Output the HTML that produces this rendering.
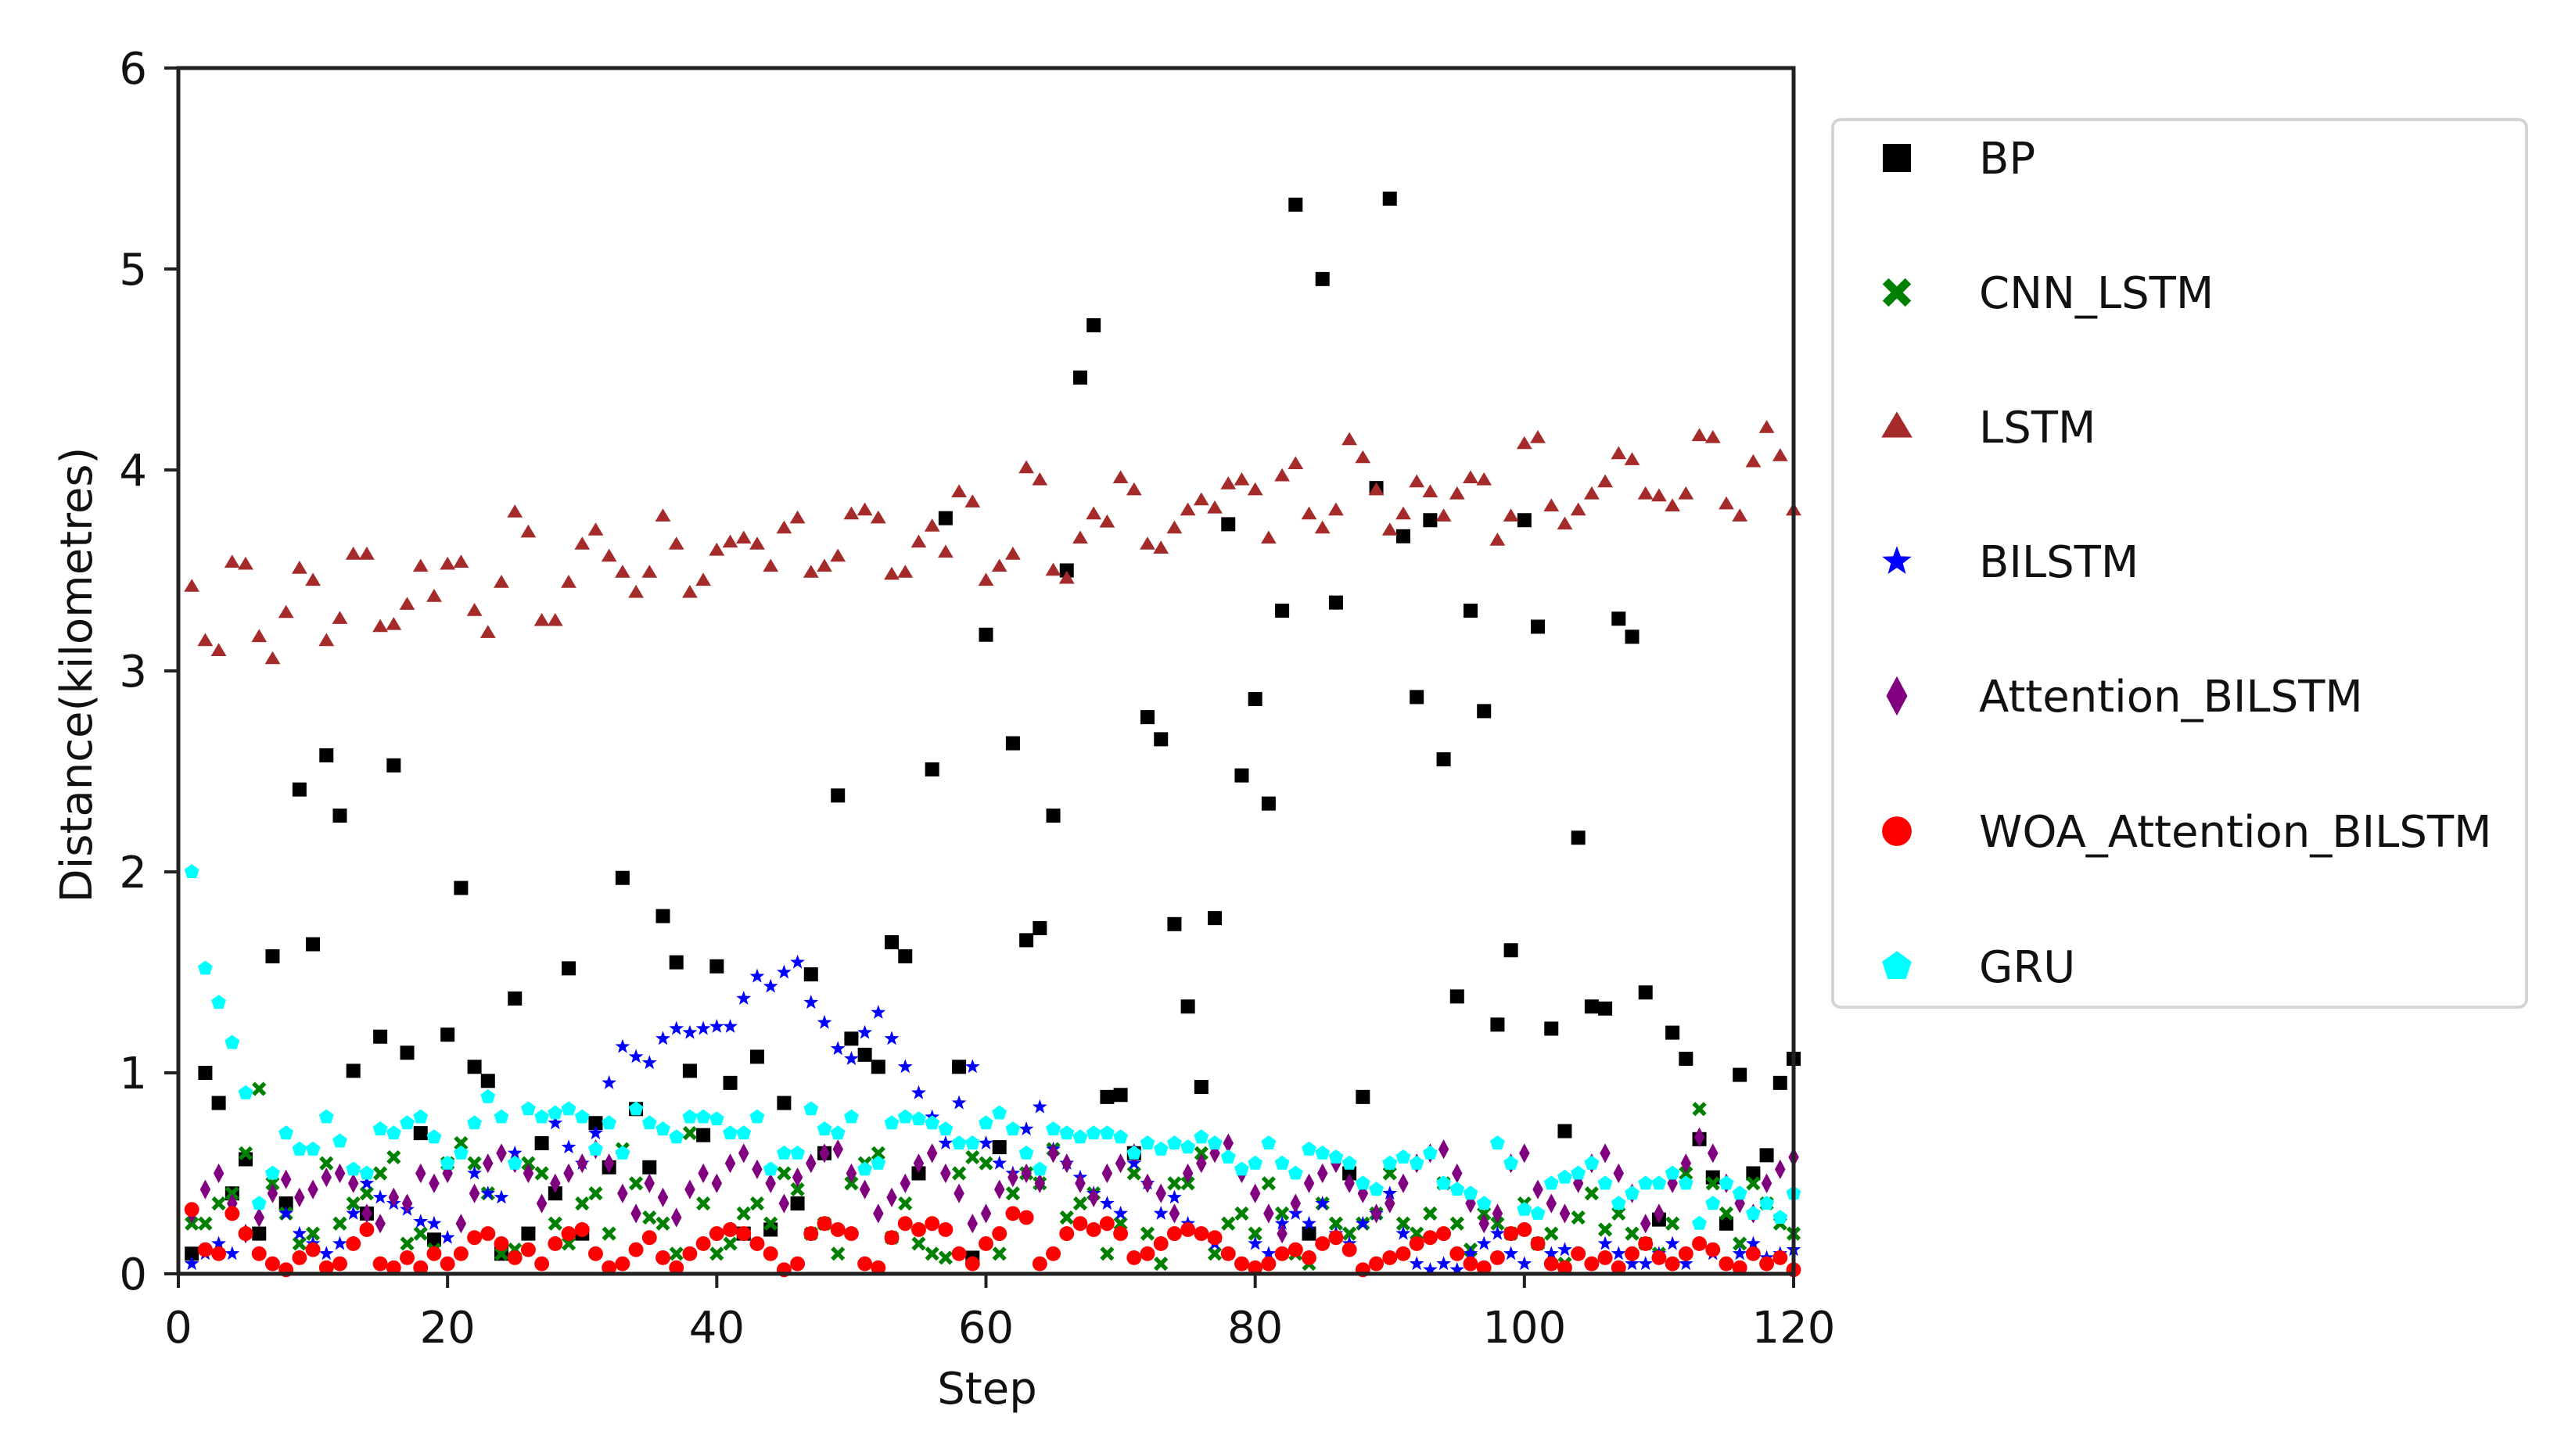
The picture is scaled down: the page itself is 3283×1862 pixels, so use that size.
<!DOCTYPE html>
<html><head><meta charset="utf-8"><style>
html,body{margin:0;padding:0;background:#fff;}
svg{display:block;font-family:"DejaVu Sans","Liberation Sans",sans-serif;}
</style></head><body>
<svg id="chart" width="3283" height="1862" viewBox="0 0 3283 1862" xmlns="http://www.w3.org/2000/svg">
<rect width="3283" height="1862" fill="#fff"/>
<g id="marks"></g>
<rect x="228" y="87" width="2065" height="1542" fill="none" stroke="#222" stroke-width="5"/>
<g id="axes"></g>
<text x="1262" y="1795" font-size="56" text-anchor="middle" fill="#111">Step</text>
<text transform="translate(117,863) rotate(-90)" font-size="56" text-anchor="middle" fill="#111">Distance(kilometres)</text>
<g id="legend">
<rect x="2343" y="153" width="887" height="1135" rx="10" fill="#fff" stroke="#d4d4d4" stroke-width="4"/>
</g>
</svg>
<script>
const steps = Array.from({length:120},(_,i)=>i+1);
const seriesNames = ["BP","CNN_LSTM","LSTM","BILSTM","Attention_BILSTM","WOA_Attention_BILSTM","GRU"];
const bpValues = [0.1,1.0,0.85,0.4,0.57,0.2,1.58,0.35,2.41,1.64,2.58,2.28,1.01,0.3,1.18,2.53,1.1,0.7,0.17,1.19,1.92,1.03,0.96,0.1,1.37,0.2,0.65,0.4,1.52,0.2,0.75,0.53,1.97,0.82,0.53,1.78,1.55,1.01,0.69,1.53,0.95,0.2,1.08,0.22,0.85,0.35,1.49,0.6,2.38,1.17,1.09,1.03,1.65,1.58,0.5,2.51,3.76,1.03,0.08,3.18,0.63,2.64,1.66,1.72,2.28,3.5,4.46,4.72,0.88,0.89,0.6,2.77,2.66,1.74,1.33,0.93,1.77,3.73,2.48,2.86,2.34,3.3,5.32,0.2,4.95,3.34,0.5,0.88,3.91,5.35,3.67,2.87,3.75,2.56,1.38,3.3,2.8,1.24,1.61,3.75,3.22,1.22,0.71,2.17,1.33,1.32,3.26,3.17,1.4,0.27,1.2,1.07,0.67,0.48,0.25,0.99,0.5,0.59,0.95,1.07];
const cnnLstmValues = [0.25,0.25,0.35,0.4,0.6,0.92,0.45,0.3,0.15,0.2,0.55,0.25,0.35,0.4,0.5,0.58,0.15,0.2,0.12,0.55,0.65,0.55,0.4,0.1,0.12,0.55,0.5,0.25,0.15,0.35,0.4,0.2,0.62,0.45,0.28,0.25,0.1,0.7,0.35,0.1,0.15,0.3,0.35,0.25,0.5,0.42,0.2,0.25,0.1,0.45,0.55,0.6,0.18,0.35,0.15,0.1,0.08,0.5,0.58,0.55,0.1,0.4,0.5,0.45,0.62,0.28,0.35,0.4,0.1,0.25,0.5,0.2,0.05,0.45,0.45,0.6,0.1,0.25,0.3,0.2,0.45,0.3,0.1,0.05,0.35,0.25,0.2,0.25,0.3,0.5,0.25,0.2,0.3,0.45,0.25,0.12,0.3,0.25,0.2,0.35,0.15,0.2,0.05,0.28,0.4,0.22,0.3,0.2,0.15,0.1,0.25,0.5,0.82,0.45,0.3,0.15,0.45,0.35,0.25,0.2];
const lstmValues = [3.42,3.15,3.1,3.54,3.53,3.17,3.06,3.29,3.51,3.45,3.15,3.26,3.58,3.58,3.22,3.23,3.33,3.52,3.37,3.53,3.54,3.3,3.19,3.44,3.79,3.69,3.25,3.25,3.44,3.63,3.7,3.57,3.49,3.39,3.49,3.77,3.63,3.39,3.45,3.6,3.64,3.66,3.63,3.52,3.71,3.76,3.49,3.52,3.57,3.78,3.8,3.76,3.48,3.49,3.64,3.72,3.59,3.89,3.84,3.45,3.52,3.58,4.01,3.95,3.5,3.46,3.66,3.78,3.74,3.96,3.9,3.63,3.61,3.71,3.8,3.85,3.81,3.93,3.95,3.9,3.66,3.97,4.03,3.78,3.71,3.8,4.15,4.06,3.9,3.7,3.78,3.94,3.89,3.77,3.88,3.96,3.95,3.65,3.77,4.13,4.16,3.82,3.73,3.8,3.88,3.94,4.08,4.05,3.88,3.87,3.82,3.88,4.17,4.16,3.83,3.77,4.04,4.21,4.07,3.8];
const bilstmValues = [0.05,0.1,0.15,0.1,0.2,0.1,0.05,0.3,0.2,0.15,0.1,0.15,0.3,0.45,0.38,0.35,0.32,0.26,0.25,0.18,0.6,0.5,0.4,0.38,0.6,0.82,0.78,0.75,0.63,0.55,0.7,0.95,1.13,1.08,1.05,1.17,1.22,1.2,1.22,1.23,1.23,1.37,1.48,1.43,1.5,1.55,1.35,1.25,1.12,1.07,1.2,1.3,1.17,1.03,0.9,0.78,0.65,0.85,1.03,0.65,0.55,0.5,0.72,0.83,0.62,0.55,0.48,0.4,0.35,0.3,0.55,0.45,0.3,0.38,0.25,0.2,0.15,0.1,0.05,0.15,0.1,0.25,0.3,0.25,0.35,0.2,0.15,0.25,0.3,0.4,0.2,0.05,0.02,0.05,0.02,0.1,0.15,0.2,0.1,0.05,0.15,0.1,0.12,0.1,0.05,0.15,0.1,0.05,0.05,0.1,0.15,0.05,0.15,0.1,0.05,0.1,0.15,0.08,0.1,0.12];
const attnValues = [0.3,0.42,0.5,0.35,0.2,0.28,0.4,0.47,0.38,0.42,0.48,0.5,0.45,0.3,0.25,0.38,0.35,0.5,0.45,0.5,0.25,0.4,0.55,0.6,0.55,0.5,0.35,0.45,0.5,0.55,0.62,0.55,0.4,0.3,0.45,0.38,0.28,0.42,0.5,0.45,0.55,0.6,0.52,0.45,0.35,0.48,0.55,0.6,0.62,0.5,0.42,0.3,0.38,0.45,0.55,0.6,0.5,0.4,0.25,0.3,0.42,0.48,0.5,0.45,0.6,0.55,0.45,0.38,0.5,0.55,0.6,0.45,0.4,0.3,0.5,0.55,0.6,0.65,0.5,0.4,0.3,0.2,0.35,0.45,0.5,0.55,0.45,0.4,0.3,0.35,0.45,0.55,0.6,0.62,0.5,0.35,0.25,0.3,0.55,0.6,0.42,0.35,0.3,0.45,0.55,0.6,0.5,0.4,0.25,0.3,0.45,0.55,0.68,0.6,0.45,0.35,0.3,0.45,0.52,0.58];
const woaValues = [0.32,0.12,0.1,0.3,0.2,0.1,0.05,0.02,0.08,0.12,0.03,0.05,0.15,0.22,0.05,0.03,0.08,0.03,0.1,0.05,0.1,0.18,0.2,0.15,0.08,0.12,0.05,0.15,0.2,0.22,0.1,0.03,0.05,0.12,0.18,0.08,0.03,0.1,0.15,0.2,0.22,0.2,0.15,0.1,0.02,0.05,0.2,0.25,0.22,0.2,0.05,0.03,0.18,0.25,0.22,0.25,0.22,0.1,0.05,0.15,0.2,0.3,0.28,0.05,0.1,0.2,0.25,0.22,0.25,0.2,0.08,0.1,0.15,0.2,0.22,0.2,0.18,0.1,0.05,0.03,0.05,0.1,0.12,0.08,0.15,0.18,0.12,0.02,0.05,0.08,0.1,0.15,0.18,0.2,0.1,0.05,0.03,0.08,0.2,0.22,0.15,0.05,0.03,0.1,0.05,0.08,0.03,0.1,0.15,0.08,0.05,0.1,0.15,0.12,0.05,0.03,0.1,0.05,0.08,0.02];
const gruValues = [2.0,1.52,1.35,1.15,0.9,0.35,0.5,0.7,0.62,0.62,0.78,0.66,0.52,0.5,0.72,0.7,0.75,0.78,0.68,0.55,0.6,0.75,0.88,0.78,0.55,0.82,0.78,0.8,0.82,0.78,0.62,0.75,0.6,0.82,0.75,0.72,0.68,0.78,0.78,0.77,0.7,0.7,0.78,0.52,0.6,0.6,0.82,0.72,0.7,0.78,0.52,0.55,0.75,0.78,0.77,0.75,0.72,0.65,0.65,0.75,0.8,0.72,0.6,0.52,0.72,0.7,0.68,0.7,0.7,0.68,0.6,0.65,0.62,0.65,0.63,0.68,0.65,0.58,0.52,0.55,0.65,0.55,0.5,0.62,0.6,0.58,0.55,0.45,0.42,0.55,0.58,0.55,0.6,0.45,0.42,0.4,0.35,0.65,0.55,0.32,0.3,0.45,0.48,0.5,0.55,0.45,0.35,0.4,0.45,0.45,0.5,0.45,0.25,0.35,0.45,0.4,0.3,0.35,0.28,0.4];
const xTicks = [0,20,40,60,80,100,120];
const yTicks = [0,1,2,3,4,5,6];

const NS="http://www.w3.org/2000/svg";
const X0=228,X1=2293,Y0=1629,Y1=87;
function xScale(v){return X0+(v-0)/(120-0)*(X1-X0);}
function yScale(v){return Y0-(v-0)/(6-0)*(Y0-Y1);}

function markerShape(type,cx,cy,s,color){
  let el;
  const r=s/2;
  if(type==="square"){el=document.createElementNS(NS,"rect");el.setAttribute("x",cx-r);el.setAttribute("y",cy-r);el.setAttribute("width",s);el.setAttribute("height",s);el.setAttribute("fill",color);}
  else if(type==="circle"){el=document.createElementNS(NS,"ellipse");el.setAttribute("cx",cx);el.setAttribute("cy",cy);el.setAttribute("rx",r*1.05);el.setAttribute("ry",r*1.05);el.setAttribute("fill",color);}
  else if(type==="x"){el=document.createElementNS(NS,"path");const d=r*0.8;el.setAttribute("d",`M${cx-d},${cy-d}L${cx+d},${cy+d}M${cx-d},${cy+d}L${cx+d},${cy-d}`);el.setAttribute("stroke",color);el.setAttribute("stroke-width",s*0.3);el.setAttribute("fill","none");}
  else {
    let pts=[];
    if(type==="triangle"){pts=[[0,-r*1.1],[r*1.1,r*0.75],[-r*1.1,r*0.75]];}
    else if(type==="diamond"){pts=[[0,-r*1.4],[r*0.75,0],[0,r*1.4],[-r*0.75,0]];}
    else if(type==="star"){for(let i=0;i<10;i++){const a=-Math.PI/2+i*Math.PI/5;const rr=i%2?r*0.45:r*1.1;pts.push([rr*Math.cos(a),rr*Math.sin(a)]);}}
    else if(type==="pentagon"){for(let i=0;i<5;i++){const a=-Math.PI/2+i*2*Math.PI/5;pts.push([r*1.1*Math.cos(a),r*1.1*Math.sin(a)]);}}
    el=document.createElementNS(NS,"polygon");
    el.setAttribute("points",pts.map(p=>(cx+p[0]).toFixed(1)+","+(cy+p[1]).toFixed(1)).join(" "));
    el.setAttribute("fill",color);
  }
  return el;
}

const seriesData=[bpValues,cnnLstmValues,lstmValues,bilstmValues,attnValues,woaValues,gruValues];
const seriesColors=["#000000","#008000","#a52a2a","#0000ff","#800080","#ff0000","#00ffff"];
const seriesMarkers=["square","x","triangle","star","diamond","circle","pentagon"];
const seriesKeys=["bp","cnn-lstm","lstm","bilstm","attention-bilstm","woa-attention-bilstm","gru"];

const marks=document.getElementById("marks");
seriesData.forEach((vals,si)=>{
  const g=document.createElementNS(NS,"g");
  
  
  vals.forEach((v,i)=>{
    const m=markerShape(seriesMarkers[si],xScale(steps[i]),yScale(v),18,seriesColors[si]);
    
    
    g.appendChild(m);
  });
  marks.appendChild(g);
});

const axes=document.getElementById("axes");
xTicks.forEach(t=>{
  const x=xScale(t);
  const l=document.createElementNS(NS,"line");
  l.setAttribute("x1",x);l.setAttribute("x2",x);l.setAttribute("y1",Y0);l.setAttribute("y2",Y0+18);
  l.setAttribute("stroke","#222");l.setAttribute("stroke-width",4);
  
  
  axes.appendChild(l);
  const tx=document.createElementNS(NS,"text");
  tx.setAttribute("x",x);tx.setAttribute("y",Y0+88);tx.setAttribute("font-size","56");tx.setAttribute("text-anchor","middle");tx.setAttribute("fill","#111");
  tx.textContent=t;
  
  
  axes.appendChild(tx);
});
yTicks.forEach(t=>{
  const y=yScale(t);
  const l=document.createElementNS(NS,"line");
  l.setAttribute("x1",X0-18);l.setAttribute("x2",X0);l.setAttribute("y1",y);l.setAttribute("y2",y);
  l.setAttribute("stroke","#222");l.setAttribute("stroke-width",4);
  
  
  axes.appendChild(l);
  const tx=document.createElementNS(NS,"text");
  tx.setAttribute("x",X0-40);tx.setAttribute("y",y+20);tx.setAttribute("font-size","56");tx.setAttribute("text-anchor","end");tx.setAttribute("fill","#111");
  tx.textContent=t;
  
  
  axes.appendChild(tx);
});

const legend=document.getElementById("legend");
const legendRowsY=[202,374,546,718,890,1063,1236];
seriesNames.forEach((name,si)=>{
  const g=document.createElementNS(NS,"g");
  
  
  const y=legendRowsY[si];
  const m=markerShape(seriesMarkers[si],2425,y,36,seriesColors[si]);
  g.appendChild(m);
  const tx=document.createElementNS(NS,"text");
  tx.setAttribute("x",2530);tx.setAttribute("y",y+20);tx.setAttribute("font-size","56");tx.setAttribute("fill","#111");
  tx.textContent=name;
  g.appendChild(tx);
  legend.appendChild(g);
});
</script>
</body></html>
